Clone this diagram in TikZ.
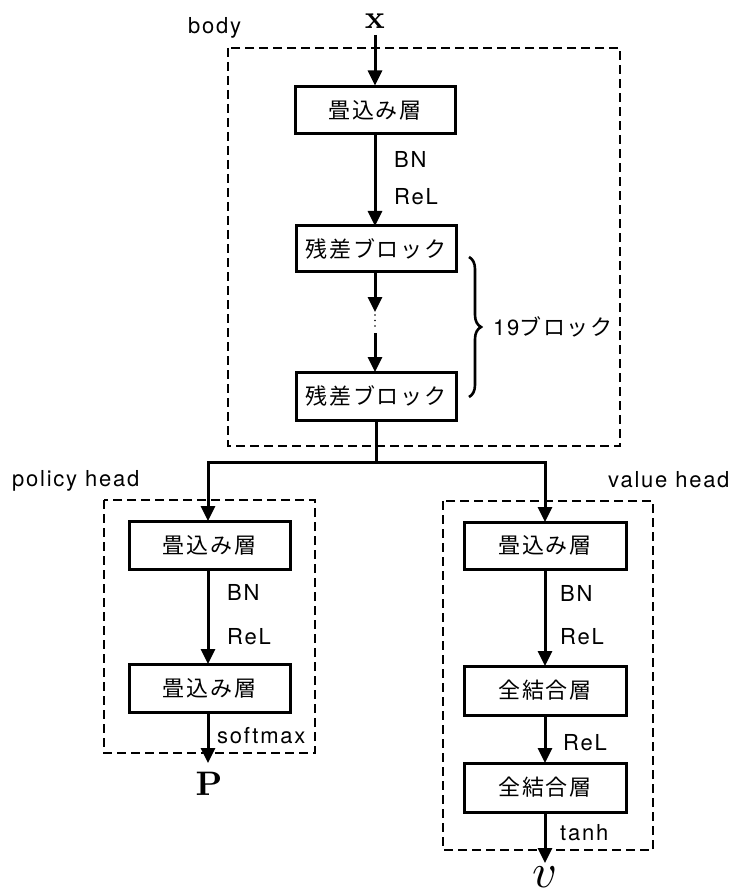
\documentclass[tikz,border=0pt]{standalone}
\usepackage[no-math]{fontspec}
\setmainfont{TeX Gyre Heros}[LetterSpace=8]
\newfontfamily\jp{Noto Sans CJK JP}[LetterSpace=8]
\usetikzlibrary{arrows.meta,decorations.pathreplacing}
\begin{document}
\begin{tikzpicture}[x=1pt,y=-1pt,
  layer/.style={draw,line width=3pt,inner sep=0pt,minimum width=160pt,minimum height=47pt,font=\jp\fontsize{22}{24}\selectfont},
  flow/.style={line width=3pt,-{Triangle[length=15pt,width=14pt]}},
  plain/.style={line width=3pt},
  group/.style={draw,line width=1.4pt,dash pattern=on 9pt off 5pt},
  lbl/.style={anchor=base west,inner sep=0pt,font=\fontsize{22}{24}\selectfont},
  big/.style={inner sep=0pt}]
\useasboundingbox (0,0) rectangle (734,893);
% group frames
\draw[group] (228,48) rectangle (620,446);
\draw[group] (104,500) rectangle (315,753);
\draw[group] (443,501) rectangle (653,850);
\node[lbl] (tbody) at (188,34) {body};
\node[lbl] (tpol) at (12,486) {policy head};
\node[lbl] (tval) at (608,487) {value head};
% body
\node[big,scale=3.3] (x) at (375,21) {$\mathbf{x}$};
\node[layer] (b1) at (375,110.5) {畳込み層};
\node[layer,minimum height=45pt] (b2) at (376,248.5) {残差ブロック};
\node[layer,minimum height=48pt] (b3) at (376,396) {残差ブロック};
\draw[flow] (375,35) -- (b1.north);
\draw[flow] (b1) -- (375,226);
\node[lbl] (bn1) at (394,168) {BN};
\node[lbl] (re1) at (394,205) {ReL};
\coordinate (d1) at (375,312);
\coordinate (d2) at (375,333);
\draw[flow] (375,271) -- (d1);
\draw[flow] (d2) -- (375,372);
\foreach \yy in {315,320.5,326} \fill (375,\yy) circle (0.9pt);
\draw[line width=2.6pt,decorate,decoration={brace,amplitude=12pt}] (469,257) -- (469,397);
\node[lbl] (nb) at (493,335) {19{\jp ブロック}};
% split
\coordinate (sp) at (376,462);
\node[layer,minimum width=161pt,minimum height=48pt] (p1) at (209.5,545) {畳込み層};
\node[layer,minimum width=161pt,minimum height=48pt] (p2) at (209.5,688) {畳込み層};
\node[layer,minimum width=162pt] (v1) at (545,545.5) {畳込み層};
\node[layer,minimum width=162pt,minimum height=49pt] (v2) at (545,690.5) {全結合層};
\node[layer,minimum width=162pt,minimum height=49pt] (v3) at (545,787.5) {全結合層};
\draw[plain] (b3.south) -- (sp);
\draw[flow] (sp) -| (208,521);
\draw[flow] (sp) -| (545,522);
% policy
\draw[flow] (208,569) -- (208,664);
\node[lbl] (bn2) at (227,600) {BN};
\node[lbl] (re2) at (227,644) {ReL};
\node[big,scale=3.4] (P) at (209,784) {$\mathbf{P}$};
\draw[flow] (208,712) -- (208,763);
\node[lbl] (sm) at (217,743) {softmax};
% value
\draw[flow] (545,569) -- (545,666);
\node[lbl] (bn3) at (560,601) {BN};
\node[lbl] (re3) at (560,644) {ReL};
\draw[flow] (545,715) -- (545,763);
\node[lbl] (re4) at (563,750) {ReL};
\draw[flow] (545,812) -- (545,863);
\node[lbl] (th) at (560,840) {tanh};
\node[big,scale=4.8,anchor=base] (v) at (545,887) {$v$};
\end{tikzpicture}
\end{document}
